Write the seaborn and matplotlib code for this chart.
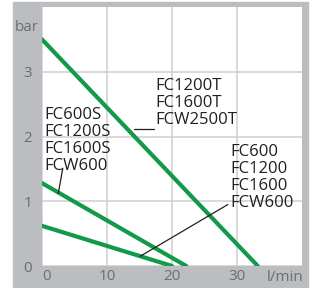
import matplotlib
matplotlib.use("Agg")
import matplotlib.pyplot as plt
import matplotlib.patches as mpatches
import pandas as pd
import seaborn as sns

sns.set_style("white")
plt.rcParams["font.family"] = ["Open Sans", "DejaVu Sans"]

GREEN = "#13994a"
FRAME = "#bcbdc0"
GRID = "#cfcfd1"
TICK = "#6d6e71"

# pump curves (flow l/min -> pressure bar)
flow_t = [0, 33.2]
bar_t = [3.5, 0]
flow_s = [0, 22.2]
bar_s = [1.28, 0]
flow_p = [0, 20]
bar_p = [0.62, 0]

x_ticks = [0, 10, 20, 30]
y_ticks = [0, 1, 2, 3]

labels_t = "FC1200T\nFC1600T\nFCW2500T"
labels_s = "FC600S\nFC1200S\nFC1600S\nFCW600"
labels_p = "FC600\nFC1200\nFC1600\nFCW600"

df = pd.concat([
    pd.DataFrame({"flow": flow_t, "bar": bar_t, "model": "T"}),
    pd.DataFrame({"flow": flow_s, "bar": bar_s, "model": "S"}),
    pd.DataFrame({"flow": flow_p, "bar": bar_p, "model": "P"}),
])

fig = plt.figure(figsize=(3.12, 2.88), dpi=100)
fig.patches.append(mpatches.Rectangle((13 / 312, 0), 295 / 312, 286 / 288,
                                      transform=fig.transFigure, color=FRAME, zorder=-10))
ax = fig.add_axes([42 / 312, 22 / 288, 260 / 312, 259 / 288])
ax.set_zorder(1)
ax.set_facecolor("white")

sns.lineplot(data=df, x="flow", y="bar", units="model", estimator=None,
             color=GREEN, linewidth=3, ax=ax, zorder=3, sort=False)

ax.set_xlim(0, 40)
ax.set_ylim(0, 4)
ax.set_xticks(x_ticks)
ax.set_yticks(y_ticks)
ax.set_xticklabels([str(v) for v in x_ticks])
ax.get_xticklabels()[0].set_horizontalalignment("left")
ax.grid(True, color=GRID, linewidth=1.1)
ax.set_axisbelow(True)
for s in ax.spines.values():
    s.set_visible(False)
ax.tick_params(length=0, labelsize=11, labelcolor=TICK)
ax.tick_params(axis="y", pad=7)
ax.tick_params(axis="x", pad=2)
ax.set_xlabel("")
ax.set_ylabel("")

ax.text(-0.058, 0.92, "bar", transform=ax.transAxes, ha="center", va="center",
        fontsize=11, color=TICK)
ax.text(0.935, -0.046, "l/min", transform=ax.transAxes, ha="center", va="center",
        fontsize=11, color=TICK)

txt = dict(fontsize=12, color="#231f20", linespacing=1.08, va="top", ha="left", zorder=4)
ax.text(17.4, 2.90, labels_t, **txt)
ax.text(0.35, 2.45, labels_s, **txt)
ax.text(29.0, 1.88, labels_p, **txt)

line = dict(color="#231f20", linewidth=0.9, zorder=4)
ax.plot([14.2, 17.2], [2.12, 2.12], **line)
ax.plot([3.2, 2.5], [1.51, 1.12], **line)
ax.plot([15.1, 28.6], [0.15, 0.95], **line)

fig.savefig("out.png", dpi=100)
